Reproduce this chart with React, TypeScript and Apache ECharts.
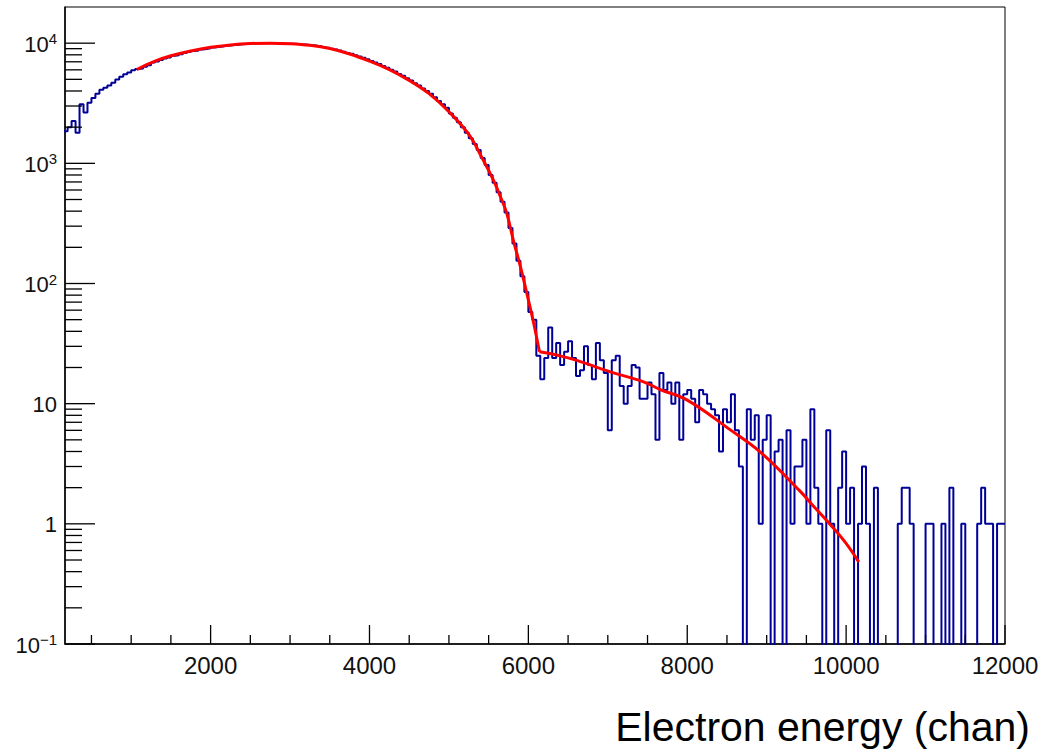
import React, { useEffect, useRef } from "react";
import * as echarts from "echarts";

// ---- axis ranges ----
const X_MIN = 167;
const X_MAX = 12000;
const Y_MIN = 0.1;
const Y_MAX = 20000;

// ---- histogram (bins of 50 chan starting at 150) ----
const binStart = 150;
const binWidth = 50;
const counts: number[] = [
  // 150 .. 1050
  1850, 2000, 2250, 1800, 3100, 2650, 3200, 3500, 3800, 4100, 4250, 4450, 4680, 4990, 5250, 5500, 5700, 5960, 6100,
  // 1100 .. 1950
  6150, 6350, 6550, 6900, 7050, 7250, 7450, 7600, 7850, 7950, 8100, 8300, 8450, 8600, 8700, 8850, 8950, 9050,
  // 2000 .. 2950
  9200, 9300, 9400, 9500, 9550, 9650, 9700, 9800, 9850, 9900, 9920, 9980, 10050, 10000, 9980, 10000, 9980, 9950, 9920, 9900,
  // 3000 .. 3950
  9880, 9850, 9780, 9750, 9650, 9600, 9500, 9450, 9300, 9150, 9000, 8850, 8700, 8500, 8300, 8150, 7950, 7750, 7550, 7350,
  // 4000 .. 4950
  7100, 6900, 6700, 6450, 6250, 6000, 5800, 5550, 5350, 5100, 4900, 4650, 4450, 4200, 4000, 3800, 3550, 3300, 3100, 2900,
  // 5000 .. 5950
  2600, 2400, 2200, 2000, 1800, 1620, 1450, 1290, 1110, 970, 800, 690, 575, 480, 390, 290, 215, 155, 115, 85,
  // 6000 .. 6950
  58, 50, 25, 16, 24, 43, 24, 32, 21, 27, 33, 24, 17, 19, 30, 21, 16, 32, 23, 18,
  // 7000 .. 7950
  6, 23, 25, 14, 10, 14, 21, 20, 11, 11, 15, 12, 5, 18, 13, 15, 10, 15, 5, 12,
  // 8000 .. 8950
  13, 11, 7, 13, 12, 10, 9, 8, 4, 9, 7, 12, 6, 3, 0, 9, 5, 8, 1, 5,
  // 9000 .. 9950
  8, 0, 4, 5, 0, 6, 1, 3, 3, 5, 1, 9, 2, 1, 0, 6, 1, 0, 2, 4,
  // 10000 .. 10950
  1, 2, 0, 1, 3, 1, 0, 2, 0, 0, 0, 0, 0, 1, 2, 2, 1, 0, 0, 0,
  // 11000 .. 11950
  1, 1, 0, 0, 1, 0, 2, 0, 0, 1, 0, 0, 0, 1, 2, 1, 1, 0, 1, 1,
];

// ---- fit curve ----
const fitMain: [number, number][] = [
  [1070, 6030], [1300, 7080], [1500, 7850], [1750, 8610], [2000, 9230], [2250, 9660],
  [2500, 9930], [2750, 10000], [3000, 9890], [3250, 9590], [3500, 9020], [3750, 8130],
  [4000, 7080], [4250, 6030], [4500, 4900], [4750, 3800], [5000, 2690], [5250, 1740],
  [5430, 1070], [5560, 725], [5650, 525], [5730, 380], [5810, 230], [5900, 138],
  [5980, 83], [6060, 49], [6140, 27],
];
const fitTail: [number, number][] = [
  [6140, 27], [6400, 25], [6610, 22.9], [7030, 18.4], [7450, 15.2], [7660, 13.1],
  [8000, 10.7], [8520, 6.2], [8920, 3.96], [9420, 1.87], [9570, 1.45], [9780, 1.02],
  [9990, 0.7], [10160, 0.48],
];

// ---- ticks ----
const xLabelValues = [2000, 4000, 6000, 8000, 10000, 12000];
const xMinorTicks = [500, 1000, 1500, 2500, 3000, 3500, 4500, 5000, 5500, 6500, 7000, 7500, 8500, 9000, 9500, 10500, 11000, 11500];
const yMajorTicks = [0.1, 1, 10, 100, 1000, 10000];
const yMinorMantissas = [2, 3, 4, 5, 6, 7, 8, 9];

const FONT = "'Liberation Sans', Arial, Helvetica, sans-serif";

export default function App() {
  const ref = useRef<HTMLDivElement>(null);

  useEffect(() => {
    if (!ref.current) return;
    const chart = echarts.init(ref.current, undefined, { renderer: "svg" });

    const stepPts: [number, number][] = [];
    counts.forEach((c, i) => {
      const x0 = binStart + i * binWidth;
      const x1 = x0 + binWidth;
      const v = c > 0 ? c : 0.01;
      stepPts.push([x0, v], [x1, v]);
    });

    const yMinor: number[] = [];
    for (let e = -1; e <= 3; e++) {
      yMinorMantissas.forEach((m) => yMinor.push(m * Math.pow(10, e)));
    }

    const xTickData = [
      ...xLabelValues.map((v) => [v, Y_MIN, 1]),
      ...xMinorTicks.map((v) => [v, Y_MIN, 0]),
    ];
    const yTickData = [
      ...yMajorTicks.map((v) => [X_MIN, v, 1]),
      ...yMinor.map((v) => [X_MIN, v, 0]),
    ];

    chart.setOption({
      animation: false,
      grid: {
        left: 65,
        right: 45,
        top: 7,
        bottom: 107,
        show: true,
        borderColor: "#000",
        borderWidth: 1,
        backgroundColor: "#fff",
      },
      xAxis: {
        type: "value",
        min: X_MIN,
        max: X_MAX,
        axisLine: { show: true, onZero: false, lineStyle: { color: "#000", width: 1.5 } },
        axisTick: { show: false },
        splitLine: { show: false },
        axisLabel: {
          customValues: xLabelValues,
          margin: 9,
          fontSize: 24,
          fontFamily: FONT,
          color: "#111",
          showMinLabel: true,
          showMaxLabel: true,
          formatter: (v: number) => String(Math.round(v)),
        },
      },
      yAxis: {
        type: "log",
        logBase: 10,
        min: Y_MIN,
        max: Y_MAX,
        axisLine: { show: true, lineStyle: { color: "#000", width: 1.5 } },
        axisTick: { show: false },
        splitLine: { show: false },
        axisLabel: {
          margin: 8,
          showMaxLabel: false,
          fontFamily: FONT,
          fontSize: 22,
          color: "#111",
          formatter: (v: number) => {
            const k = Math.round(Math.log10(v));
            if (k === 0) return "{b|1}";
            if (k === 1) return "{b|10}";
            const ex = k < 0 ? "\u2212" + -k : String(k);
            return "{b|10}{s|" + ex + "}";
          },
          rich: {
            b: { fontSize: 22, fontFamily: FONT, color: "#111", lineHeight: 24, verticalAlign: "bottom" },
            s: { fontSize: 15, fontFamily: FONT, color: "#111", lineHeight: 15, verticalAlign: "top" },
          },
        },
      },
      graphic: [
        {
          type: "text",
          x: 1030,
          y: 727,
          style: {
            text: "Electron energy (chan)",
            fontSize: 41,
            fontFamily: FONT,
            fill: "#000",
            align: "right",
            verticalAlign: "middle",
          },
        },
      ],
      series: [
        {
          type: "line",
          data: stepPts,
          showSymbol: false,
          symbol: "none",
          clip: true,
          lineStyle: { color: "#000099", width: 2 },
          z: 2,
        },
        {
          type: "line",
          data: fitMain,
          showSymbol: false,
          symbol: "none",
          smooth: 0.4,
          clip: true,
          lineStyle: { color: "#ff0000", width: 3 },
          z: 3,
        },
        {
          type: "line",
          data: fitTail,
          showSymbol: false,
          symbol: "none",
          smooth: 0.4,
          clip: true,
          lineStyle: { color: "#ff0000", width: 3 },
          z: 3,
        },
        {
          type: "custom",
          data: xTickData,
          clip: false,
          silent: true,
          z: 5,
          renderItem: (_p: any, api: any) => {
            const pt = api.coord([api.value(0), api.value(1)]);
            const len = api.value(2) === 1 ? 19 : 9;
            return {
              type: "line",
              shape: { x1: pt[0], y1: pt[1], x2: pt[0], y2: pt[1] - len },
              style: { stroke: "#000", lineWidth: 1.3 },
            };
          },
        },
        {
          type: "custom",
          data: yTickData,
          clip: false,
          silent: true,
          z: 5,
          renderItem: (_p: any, api: any) => {
            const pt = api.coord([api.value(0), api.value(1)]);
            const len = api.value(2) === 1 ? 30 : 17;
            return {
              type: "line",
              shape: { x1: pt[0], y1: pt[1], x2: pt[0] + len, y2: pt[1] },
              style: { stroke: "#000", lineWidth: 1.3 },
            };
          },
        },
      ],
    });

    return () => {
      chart.dispose();
    };
  }, []);

  return (
    <div
      ref={ref}
      style={{ position: "absolute", left: 0, top: 0, width: 1050, height: 751, background: "#fff" }}
    />
  );
}
